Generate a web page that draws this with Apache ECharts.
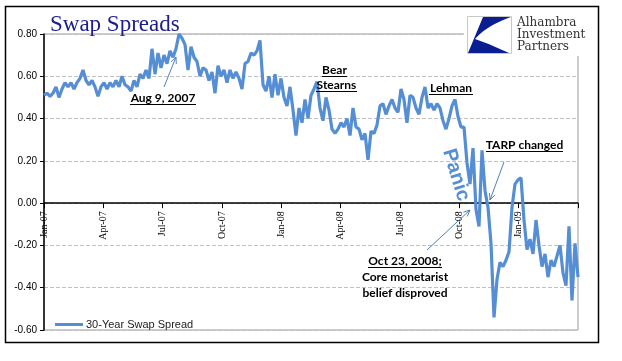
<!DOCTYPE html>
<html><head><meta charset="utf-8">
<script src="https://cdn.jsdelivr.net/npm/echarts@6/dist/echarts.min.js"></script>
<style>html,body{margin:0;padding:0;background:#fff}#c{width:622px;height:361px}</style>
</head><body><div id="c"></div>
<script>
// Tick labels every 3 months, Jan-07 .. Jan-09 (axis runs to Apr-09)
const tickLabels = ['Jan-07','Apr-07','Jul-07','Oct-07','Jan-08','Apr-08','Jul-08','Oct-08','Jan-09'];
const monthSpan = 27;
const yMin = -0.6, yMax = 0.8;
const seriesName = '30-Year Swap Spread';

// 30-Year swap spread (evenly spaced samples)
const spreadJan07toJul07 = [0.51,0.52,0.505,0.52,0.55,0.50,0.54,0.57,0.55,0.57,0.54,0.57,0.59,0.63,0.58,0.56,0.58,0.55,0.505,0.55,0.57,0.54,0.57,0.55,0.58,0.55,0.60,0.56,0.55,0.53,0.58,0.55,0.61,0.59,0.63,0.59,0.73,0.61,0.71,0.64,0.70,0.66,0.72,0.69,0.73];
const spreadJul07toMar08 = [0.80,0.78,0.75,0.63,0.74,0.69,0.67,0.60,0.64,0.63,0.58,0.62,0.52,0.65,0.60,0.63,0.57,0.63,0.59,0.62,0.59,0.54,0.66,0.67,0.71,0.70,0.72,0.77,0.56,0.53,0.60,0.50,0.61,0.51,0.59,0.50,0.46,0.55,0.44,0.32,0.45,0.38,0.49,0.40,0.51,0.54];
const spreadMar08toSep08 = [0.575,0.45,0.39,0.50,0.44,0.35,0.33,0.35,0.38,0.36,0.40,0.32,0.45,0.36,0.35,0.30,0.33,0.205,0.34,0.33,0.37,0.46,0.47,0.42,0.46,0.49,0.45,0.43,0.54,0.49,0.38,0.51,0.50,0.45,0.42,0.50,0.55,0.45,0.47,0.44,0.47,0.45,0.39,0.35];
const spreadSep08toMar09 = [0.40,0.46,0.49,0.41,0.36,0.36,0.19,0.09,0.26,-0.03,-0.11,0.25,0.06,-0.02,-0.19,-0.54,-0.36,-0.28,-0.30,-0.27,-0.23,-0.02,0.09,0.11,0.12,-0.08,-0.22,-0.17,-0.24,-0.08,-0.20,-0.30,-0.24,-0.35,-0.27,-0.30,-0.25,-0.20,-0.33,-0.39,-0.11,-0.46,-0.19,-0.35];

const spread = spreadJan07toJul07.concat(spreadJul07toMar08, spreadMar08toSep08, spreadSep08toMar09);
const step = monthSpan / (spread.length - 1);
const seriesData = spread.map((v, i) => [i * step, v]);

const gridTop = 34, gridBottom = 31, chartH = 361;
const plotH = chartH - gridTop - gridBottom;
// move the date axis up to the zero line of the value scale
const xAxisOffset = -((0 - yMin) / (yMax - yMin)) * plotH;

const lineColor = '#558ed5';
const arrowColor = '#4f7fc0';
const annFont = 'bold 12px Lato';

function arrow(x1, y1, x2, y2) {
  const a = Math.atan2(y2 - y1, x2 - x1), L = 7, s = 0.42;
  return [
    {type:'line', z:60, shape:{x1, y1, x2, y2}, style:{stroke:arrowColor, lineWidth:1}},
    {type:'polyline', z:60, shape:{points:[[x2 - L*Math.cos(a-s), y2 - L*Math.sin(a-s)], [x2, y2], [x2 - L*Math.cos(a+s), y2 - L*Math.sin(a+s)]]},
     style:{stroke:arrowColor, lineWidth:1, fill:null}}
  ];
}
function label(text, cx, cy, underlineW) {
  const els = [{type:'text', z:60, x:cx, y:cy, style:{text, font:annFont, fill:'#000', align:'center', verticalAlign:'middle'}}];
  if (underlineW) els.push({type:'line', z:60, shape:{x1:cx-underlineW/2, y1:cy+6.5, x2:cx+underlineW/2, y2:cy+6.5}, style:{stroke:'#000', lineWidth:1}});
  return els;
}
function quad(p0, c, p1, n) {
  const pts = [];
  for (let k = 1; k <= n; k++) {
    const t = k / n, u = 1 - t;
    pts.push([u*u*p0[0] + 2*u*t*c[0] + t*t*p1[0], u*u*p0[1] + 2*u*t*c[1] + t*t*p1[1]]);
  }
  return pts;
}
const logoPts = [[483,17],[511,17]].concat(quad([511,17],[486,26],[475,39],10), quad([475,39],[492,45],[509,53],10), [[468,53]]);

const graphics = [].concat(
  [{type:'rect', z:1, shape:{x:5.5, y:6.5, width:593, height:336}, style:{fill:'none', stroke:'#000', lineWidth:1.5}}],
  [{type:'text', z:60, x:50, y:25, style:{text:'Swap Spreads', font:'23px "Liberation Serif"', fill:'#1c1c8c', align:'left', verticalAlign:'middle'}}],
  [{type:'rect', z:55, shape:{x:464, y:10, width:128, height:46}, style:{fill:'#fff'}},
   {type:'rect', z:56, shape:{x:467.5, y:16.5, width:44, height:37}, style:{fill:'#fff', stroke:'#c8c8c8', lineWidth:1}},
   {type:'polygon', z:57, shape:{points:logoPts}, style:{fill:'#0a1e91'}},
   {type:'text', z:57, x:517, y:23, style:{text:'Alhambra', font:'12px "DejaVu Serif"', fill:'#333', align:'left', verticalAlign:'middle'}},
   {type:'text', z:57, x:517, y:35, style:{text:'Investment', font:'12px "DejaVu Serif"', fill:'#333', align:'left', verticalAlign:'middle'}},
   {type:'text', z:57, x:517, y:47, style:{text:'Partners', font:'12px "DejaVu Serif"', fill:'#333', align:'left', verticalAlign:'middle'}}],
  label('Aug 9, 2007', 163, 98, 66), arrow(164, 87, 176, 57),
  label('Bear', 334.5, 70, 25), label('Stearns', 336.5, 85, 41),
  label('Lehman', 451, 88, 44),
  label('TARP changed', 524.5, 145, 77), arrow(504, 162, 490, 200),
  label('Oct 23, 2008;', 405, 261, 74), label('Core monetarist', 405, 277), label('belief disproved', 405, 293),
  arrow(427, 250, 470, 210),
  [{type:'text', z:58, x:456, y:175, rotation:-73*Math.PI/180, style:{text:'Panic', font:'bold 20px "Liberation Sans"', fill:lineColor, align:'center', verticalAlign:'middle'}}]
);

const chart = echarts.init(document.getElementById('c'), null, {renderer:'canvas'});
chart.setOption({
  animation:false,
  backgroundColor:'#fff',
  grid:{left:44, right:44, top:gridTop, bottom:gridBottom, show:true, borderColor:'#9a9a9a', borderWidth:1,
    containLabel:false, outerBoundsMode:'none'},
  legend:{left:50, top:314, itemWidth:28, itemHeight:3, icon:'rect', itemGap:4, data:[seriesName],
    textStyle:{fontFamily:'Liberation Sans', fontSize:11, color:'#222', padding:[0,0,0,-2]}},
  xAxis:{type:'value', min:0, max:monthSpan, interval:3, offset:xAxisOffset,
    axisLine:{onZero:false, lineStyle:{color:'#000', width:1.5}},
    axisTick:{show:true, length:5, lineStyle:{color:'#000'}},
    splitLine:{show:false},
    axisLabel:{rotate:90, margin:8, fontFamily:'Liberation Serif', fontSize:10, color:'#000',
      formatter:v => { const k = Math.round(v/3); return (Math.abs(v/3 - k) < 1e-6 && tickLabels[k]) ? tickLabels[k] : ''; }}},
  yAxis:{type:'value', min:yMin, max:yMax, interval:0.2,
    axisLine:{show:true, lineStyle:{color:'#000', width:1.5}},
    axisTick:{show:true, length:4, lineStyle:{color:'#000'}},
    splitLine:{show:true, lineStyle:{color:'#c0c0c0', type:'dashed', width:1}},
    axisLabel:{margin:7, fontFamily:'Liberation Sans', fontSize:10, color:'#000', formatter:v => v.toFixed(2)}},
  series:[{name:seriesName, type:'line', data:seriesData, symbol:'none', showSymbol:false,
    lineStyle:{color:lineColor, width:3.2}, itemStyle:{color:lineColor}, z:5}],
  graphic:graphics
});
</script></body></html>
